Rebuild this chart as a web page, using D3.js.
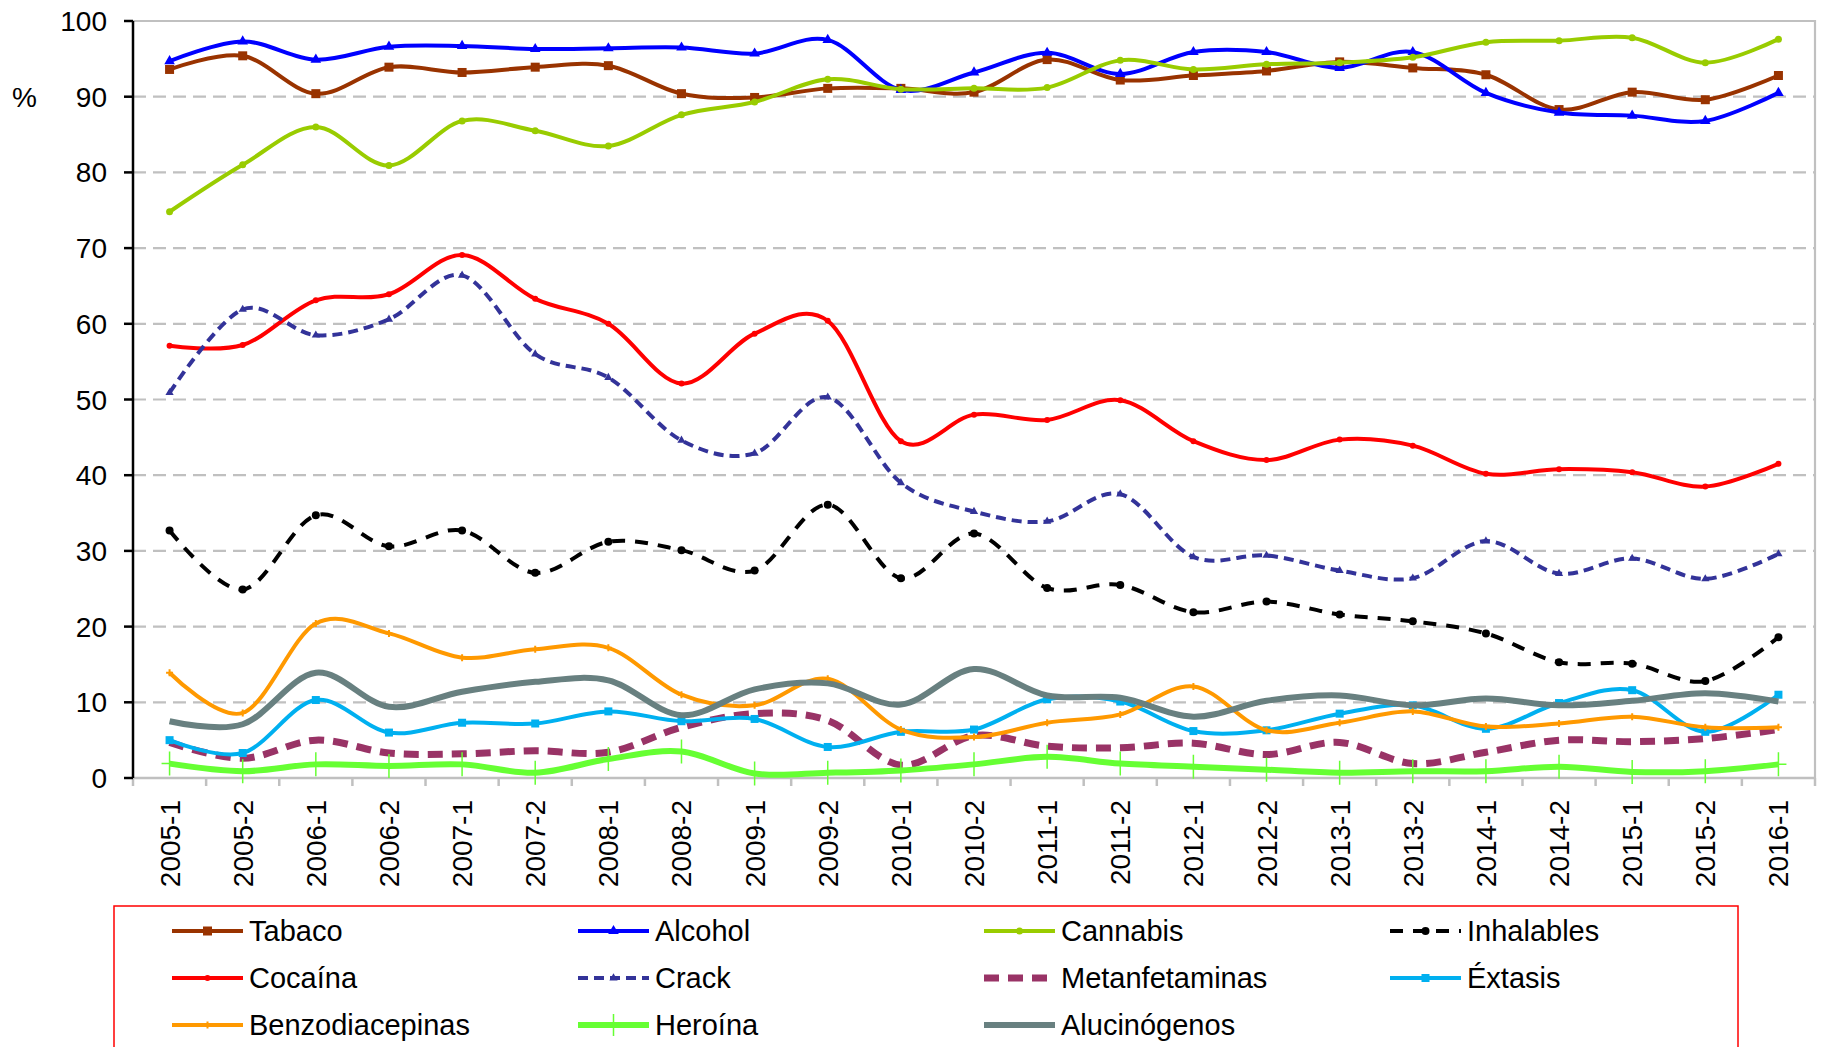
<!DOCTYPE html>
<html>
<head>
<meta charset="utf-8">
<script src="https://cdn.jsdelivr.net/npm/d3@7"></script>
<style>
  body { margin: 0; background: #fff; }
  svg { display: block; font-family: "Liberation Sans", Arial, sans-serif; }
</style>
</head>
<body>
<svg width="1825" height="1047"></svg>
<script>
// periods (semesters)
const periods = ["2005-1","2005-2","2006-1","2006-2","2007-1","2007-2","2008-1","2008-2","2009-1","2009-2",
  "2010-1","2010-2","2011-1","2011-2","2012-1","2012-2","2013-1","2013-2","2014-1","2014-2","2015-1","2015-2","2016-1"];

const tabaco = [93.6,95.4,90.4,93.9,93.2,93.9,94.1,90.4,89.9,91.1,91.1,90.6,94.9,92.2,92.8,93.4,94.6,93.8,92.9,88.3,90.6,89.6,92.8];
const alcohol = [94.7,97.3,94.9,96.6,96.7,96.3,96.4,96.5,95.7,97.5,90.9,93.2,95.8,93.0,95.9,95.9,93.8,95.9,90.5,87.9,87.5,86.8,90.5];
const cannabis = [74.8,81.0,86.0,80.9,86.8,85.5,83.5,87.6,89.3,92.3,91.0,91.1,91.2,94.8,93.6,94.3,94.5,95.2,97.2,97.4,97.8,94.5,97.6];
const inhalables = [32.7,24.9,34.7,30.6,32.7,27.1,31.2,30.1,27.4,36.1,26.4,32.3,25.1,25.5,21.9,23.3,21.6,20.7,19.1,15.3,15.1,12.8,18.6];
const cocaina = [57.1,57.2,63.1,63.9,69.1,63.3,60.0,52.1,58.7,60.4,44.5,48.0,47.3,49.9,44.5,42.0,44.7,43.9,40.2,40.8,40.4,38.5,41.5];
const crack = [50.9,61.9,58.5,60.6,66.4,56.0,52.9,44.6,42.9,50.3,39.0,35.2,33.9,37.5,29.2,29.4,27.4,26.4,31.3,27.0,29.0,26.3,29.6];
const metanfetaminas = [4.7,2.6,5.0,3.3,3.2,3.6,3.4,6.7,8.5,7.6,1.7,5.6,4.2,4.0,4.6,3.1,4.7,1.9,3.4,5.0,4.8,5.2,6.4];
const extasis = [5.0,3.3,10.3,6.0,7.3,7.2,8.8,7.5,7.8,4.1,6.1,6.4,10.4,10.1,6.2,6.3,8.5,9.6,6.5,9.9,11.6,6.1,11.0];
const benzodiacepinas = [13.9,8.6,20.4,19.1,15.9,17.0,17.2,11.0,9.6,13.1,6.4,5.4,7.3,8.4,12.1,6.3,7.3,8.8,6.8,7.2,8.1,6.7,6.7];
const heroina = [1.9,0.9,1.8,1.6,1.8,0.7,2.5,3.5,0.6,0.7,1.0,1.8,2.8,1.9,1.5,1.1,0.7,0.9,0.9,1.5,0.8,0.9,1.8];
const alucinogenos = [7.5,7.1,13.9,9.4,11.4,12.7,12.9,8.3,11.7,12.5,9.7,14.4,10.9,10.6,8.1,10.2,10.9,9.6,10.5,9.6,10.2,11.2,10.1];

const yTicks = [0,10,20,30,40,50,60,70,80,90,100];

const series = [
  {name: "Tabaco", values: tabaco, color: "#993300", width: 4, dash: null, marker: "square", msize: 9},
  {name: "Alcohol", values: alcohol, color: "#0000FF", width: 4, dash: null, marker: "triangle", msize: 9},
  {name: "Cannabis", values: cannabis, color: "#99CC00", width: 4, dash: null, marker: "circle", msize: 7},
  {name: "Inhalables", values: inhalables, color: "#000000", width: 4, dash: "13,10", marker: "circle", msize: 8},
  {name: "Cocaína", values: cocaina, color: "#FF0000", width: 4, dash: null, marker: "circle", msize: 6},
  {name: "Crack", values: crack, color: "#333399", width: 4, dash: "10,6", marker: "triangle", msize: 7},
  {name: "Metanfetaminas", values: metanfetaminas, color: "#993366", width: 7, dash: "15,9", marker: null, msize: 0},
  {name: "Éxtasis", values: extasis, color: "#00B0F0", width: 4, dash: null, marker: "square", msize: 8},
  {name: "Benzodiacepinas", values: benzodiacepinas, color: "#FF9900", width: 4, dash: null, marker: "plus", msize: 7},
  {name: "Heroína", values: heroina, color: "#66FF33", width: 6, dash: null, marker: "bigplus", msize: 16},
  {name: "Alucinógenos", values: alucinogenos, color: "#688080", width: 6, dash: null, marker: null, msize: 0}
];

const svg = d3.select("svg");
const plotLeft = 133, plotRight = 1815, plotTop = 21, plotBottom = 778;

const x = d3.scaleBand().domain(periods).range([plotLeft, plotRight]);
const y = d3.scaleLinear().domain([0, 100]).range([plotBottom, plotTop]);
const cx = d => x(d) + x.bandwidth() / 2;

// grid
svg.append("g").selectAll("line").data(yTicks.filter(d => d > 0 && d < 100))
  .join("line")
  .attr("x1", plotLeft).attr("x2", plotRight)
  .attr("y1", d => y(d)).attr("y2", d => y(d))
  .attr("stroke", "#C0C0C0").attr("stroke-width", 2.2).attr("stroke-dasharray", "13,7");

// plot border (top, right)
svg.append("path")
  .attr("d", `M${plotLeft},${plotTop}H${plotRight}V${plotBottom}`)
  .attr("fill", "none").attr("stroke", "#C0C0C0").attr("stroke-width", 2.2);

// x axis
const xAxis = svg.append("g").attr("transform", `translate(0,${plotBottom})`);
xAxis.append("line").attr("x1", plotLeft).attr("x2", plotRight).attr("stroke", "#C0C0C0").attr("stroke-width", 2.5);
xAxis.selectAll("line.tk").data(d3.range(periods.length + 1))
  .join("line").attr("class", "tk")
  .attr("x1", i => plotLeft + i * x.bandwidth()).attr("x2", i => plotLeft + i * x.bandwidth())
  .attr("y1", 0).attr("y2", 8)
  .attr("stroke", "#C0C0C0").attr("stroke-width", 2.5);
xAxis.selectAll("text").data(periods)
  .join("text")
  .attr("transform", d => `translate(${cx(d) + 10},22) rotate(-90)`)
  .attr("text-anchor", "end")
  .attr("font-size", 28)
  .text(d => d);

// y axis
const yAxis = svg.append("g").attr("transform", `translate(${plotLeft},0)`);
yAxis.append("line").attr("y1", plotTop).attr("y2", plotBottom).attr("stroke", "#000").attr("stroke-width", 2.5);
yAxis.selectAll("line.tk").data(yTicks)
  .join("line").attr("class", "tk")
  .attr("x1", -9).attr("x2", 0)
  .attr("y1", d => y(d)).attr("y2", d => y(d))
  .attr("stroke", "#000").attr("stroke-width", 2.5);
yAxis.selectAll("text").data(yTicks)
  .join("text")
  .attr("x", -26).attr("y", d => y(d))
  .attr("dy", "0.36em")
  .attr("text-anchor", "end")
  .attr("font-size", 28)
  .text(d => d);

svg.append("text").attr("x", 12).attr("y", y(90)).attr("dy", "0.36em")
  .attr("font-size", 28).text("%");

// markers
function drawMarker(g, type, size, color) {
  if (type === "square") {
    g.append("rect").attr("x", -size / 2).attr("y", -size / 2).attr("width", size).attr("height", size).attr("fill", color);
  } else if (type === "circle") {
    g.append("circle").attr("r", size / 2).attr("fill", color);
  } else if (type === "triangle") {
    g.append("path").attr("d", d3.symbol(d3.symbolTriangle, size * size * 0.6)()).attr("fill", color);
  } else if (type === "plus") {
    g.append("path").attr("d", `M${-size / 2},0H${size / 2}M0,${-size / 2}V${size / 2}`)
      .attr("stroke", color).attr("stroke-width", 2);
  } else if (type === "bigplus") {
    g.append("path").attr("d", `M${-size / 2},0H${size / 2}M0,${-size / 2 - 4}V${size / 2 + 4}`)
      .attr("stroke", color).attr("stroke-width", 1.5);
  }
}

const line = d3.line()
  .x((d, i) => cx(periods[i]))
  .y(d => y(d))
  .curve(d3.curveCardinal.tension(0));

series.forEach(s => {
  const g = svg.append("g");
  g.append("path")
    .attr("d", line(s.values))
    .attr("fill", "none")
    .attr("stroke", s.color)
    .attr("stroke-width", s.width)
    .attr("stroke-dasharray", s.dash)
    .attr("stroke-linejoin", "round");
  if (s.marker) {
    s.values.forEach((v, i) => {
      const mg = g.append("g").attr("transform", `translate(${cx(periods[i])},${y(v)})`);
      drawMarker(mg, s.marker, s.msize, s.color);
    });
  }
});

// legend
const legend = svg.append("g");
legend.append("rect")
  .attr("x", 114).attr("y", 906).attr("width", 1624).attr("height", 170)
  .attr("fill", "none").attr("stroke", "#FF0000").attr("stroke-width", 1.5);

series.forEach((s, i) => {
  const col = i % 4, row = Math.floor(i / 4);
  const lx = 172 + col * 406, ly = 931 + row * 47;
  const g = legend.append("g").attr("transform", `translate(${lx},${ly})`);
  g.append("line").attr("x1", 0).attr("x2", 71)
    .attr("stroke", s.color).attr("stroke-width", s.width)
    .attr("stroke-dasharray", s.dash);
  if (s.marker) {
    const mg = g.append("g").attr("transform", "translate(35.5,0)");
    drawMarker(mg, s.marker, s.marker === "bigplus" ? 14 : s.msize, s.color);
  }
  g.append("text").attr("x", 77).attr("dy", "0.36em").attr("font-size", 29).text(s.name);
});
</script>
</body>
</html>
